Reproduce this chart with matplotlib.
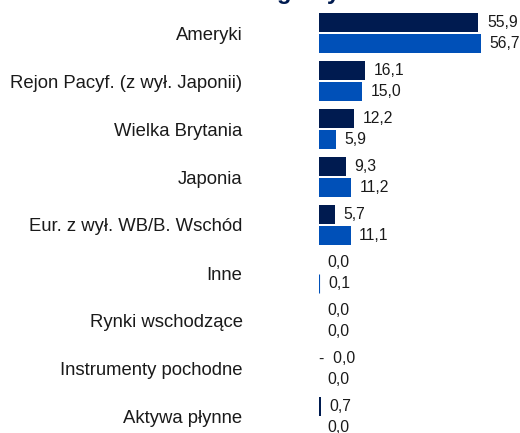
import matplotlib
matplotlib.use("Agg")
import matplotlib.pyplot as plt
import numpy as np

plt.rcParams['font.family'] = ['Liberation Sans', 'DejaVu Sans']

title = "Regiony"
categories = ["Ameryki", "Rejon Pacyf. (z wył. Japonii)", "Wielka Brytania", "Japonia",
              "Eur. z wył. WB/B. Wschód", "Inne", "Rynki wschodzące",
              "Instrumenty pochodne", "Aktywa płynne"]
series_a = [55.9, 16.1, 12.2, 9.3, 5.7, 0.0, 0.0, -0.02, 0.7]
series_b = [56.7, 15.0, 5.9, 11.2, 11.1, 0.1, 0.0, 0.0, 0.0]

dark = "#001B50"
blue = "#0050B8"

W, H = 520, 433
fig = plt.figure(figsize=(W / 100, H / 100), dpi=100)
x0 = 319 / W
ax = fig.add_axes([x0, 0, 1 - x0, 1])

y = np.arange(len(categories))
h = 19 / 48
off = 10.5 / 48

def lw_for(vals):
    return [0.8 if 0 < v < 0.5 else 0 for v in vals]

ax.barh(y - off, series_a, height=h, color=dark, edgecolor=dark, linewidth=lw_for(series_a))
ax.barh(y + off, series_b, height=h, color=blue, edgecolor=blue, linewidth=lw_for(series_b))

def fmt(v):
    s = f"{abs(v):.1f}".replace('.', ',')
    return ("-  " + s) if v < 0 else s

for vals, dy in ((series_a, -off), (series_b, off)):
    for i, v in enumerate(vals):
        if v < 0:
            ax.annotate(fmt(v), xy=(0, i + dy), xytext=(0, 0), textcoords='offset points',
                        ha='left', va='center', fontsize=11.3, color='#1a1a1a')
        else:
            ax.annotate(fmt(v), xy=(v, i + dy), xytext=(6.2, 0), textcoords='offset points',
                        ha='left', va='center', fontsize=11.3, color='#1a1a1a')

ax.set_xlim(0, (W - 319) / 2.85)
ax.set_ylim((H - 33) / 48, -33 / 48)
ax.set_yticks(y)
ax.set_yticklabels(categories, fontsize=13.3, color='#1a1a1a')
ax.tick_params(axis='y', length=0, pad=55)
ax.set_xticks([])
for s in ax.spines.values():
    s.set_visible(False)
ax.patch.set_alpha(0)

fig.text(247 / W, 1 + 1 / H, title, ha='left', va='baseline', fontsize=17,
         fontweight='bold', color=dark)

fig.savefig("out.png", dpi=100)
